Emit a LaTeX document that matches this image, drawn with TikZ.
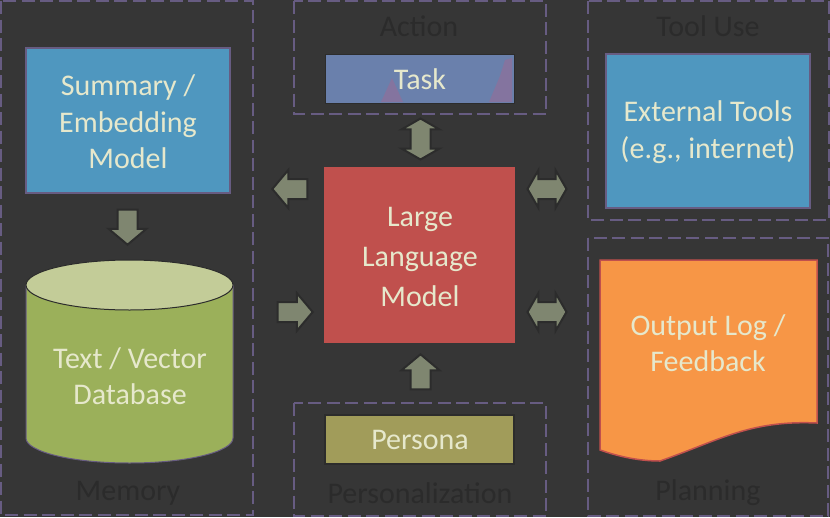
\documentclass[tikz,border=0pt]{standalone}
\usepackage{fontspec}
\setmainfont{Carlito}
\usetikzlibrary{shapes.arrows}
\definecolor{bgc}{HTML}{363636}
\definecolor{bluec}{HTML}{4F97BF}
\definecolor{redc}{HTML}{C0504D}
\definecolor{greenc}{HTML}{9BB05A}
\definecolor{orangec}{HTML}{F79646}
\definecolor{textc}{HTML}{E6E8CC}
\definecolor{dashc}{HTML}{675C82}
\definecolor{labelc}{HTML}{2B2B2B}
\definecolor{arrowc}{HTML}{7F8670}
\definecolor{edgec}{HTML}{2C2C2C}
\definecolor{taskc}{HTML}{6A80AC}
\definecolor{taskr}{HTML}{84749F}
\definecolor{personac}{HTML}{A19C5A}
\definecolor{lidc}{HTML}{C3CC98}
\tikzset{
  x=1pt,y=-1pt,
  txt/.style={text=textc,font=\fontsize{30}{36.5}\selectfont,align=center,inner sep=0pt},
  grouplabel/.style={text=labelc,font=\fontsize{30}{36}\selectfont,inner sep=0pt},
  groupbox/.style={draw=dashc,line width=1.2pt,dash pattern=on 13pt off 5.5pt},
  solidbox/.style={draw=dashc,line width=1.2pt,fill=#1},
  onearrow/.style={single arrow,draw=edgec,line width=2pt,fill=arrowc,inner xsep=0pt,inner ysep=9pt,
    minimum width=36pt,minimum height=35pt,single arrow head extend=9pt,single arrow tip angle=100},
  twoarrow/.style={double arrow,draw=edgec,line width=2pt,fill=arrowc,inner xsep=0pt,inner ysep=9pt,
    minimum width=36pt,minimum height=39pt,double arrow head extend=9pt,double arrow tip angle=120},
}
\begin{document}
\begin{tikzpicture}
\useasboundingbox (0,0) rectangle (830,517);
\fill[bgc] (0,0) rectangle (830,517);
% group frames
\draw[groupbox] (1,1) rectangle (253,515);
\draw[groupbox] (294,1) rectangle (546,114);
\draw[groupbox] (294,403) rectangle (546,516);
\draw[groupbox] (588,1) rectangle (829,220);
\draw[groupbox] (588,238) rectangle (828,516);
% blocks
\draw[solidbox=bluec] (26,48) rectangle (230,193);
\draw[solidbox=bluec] (606,54) rectangle (810,208);
\draw[solidbox=redc,draw=redc] (325,168) rectangle (514,342);
\draw[draw=edgec,line width=1pt,fill=taskc] (325,54) rectangle (514,103);
\fill[taskr] (381,102) -- (392,78) -- (403,102) -- cycle;
\fill[taskr] (489,102) -- (500,76) -- (505,60) -- (512,58) -- (512,102) -- cycle;
\draw[draw=edgec,line width=2pt,fill=personac] (325,415) rectangle (514,464);
% cylinder
\draw[draw=dashc,line width=1pt,fill=greenc] (26,285) -- (26,438) arc[start angle=180,end angle=0,x radius=103.5,y radius=25] -- (233,285) -- cycle;
\draw[draw=edgec,line width=1pt,fill=lidc] (129.5,285) ellipse[x radius=103.5,y radius=25];
% document
\draw[draw=redc,line width=1.5pt,fill=orangec] (600,260) -- (817,260) -- (817,423)
  .. controls (750,420) and (720,440) .. (660,461)
  .. controls (640,461) and (620,457) .. (600,450) -- cycle;
% texts
\node[txt] (summary) at (128,122) {Summary /\\Embedding\\Model};
\node[txt] (database) at (130,376) {Text / Vector\\Database};
\node[txt] (task) at (420,79) {Task};
\node[txt,font=\fontsize{30}{40}\selectfont] (llm) at (420,257) {Large\\Language\\Model};
\node[txt] (persona) at (420,440) {Persona};
\node[txt] (tools) at (708,132) {External Tools\\(e.g., internet)};
\node[txt] (log) at (708,343) {Output Log /\\Feedback};
\node[grouplabel] (memory) at (128,493) {Memory};
\node[grouplabel] (action) at (419,26) {Action};
\node[grouplabel] (personalization) at (420,493) {Personalization};
\node[grouplabel] (tooluse) at (708,26) {Tool Use};
\node[grouplabel] (planning) at (708,493) {Planning};
% block arrows
\node[onearrow,rotate=-90] (a1) at (127.5,223) {};
\node[onearrow,rotate=180] (a2) at (294,189) {};
\node[onearrow] (a3) at (291,312) {};
\node[onearrow,rotate=90] (a4) at (420.5,376) {};
\node[twoarrow,rotate=90,minimum height=41pt] (a5) at (420.5,139) {};
\node[twoarrow] (a6) at (547,189) {};
\node[twoarrow] (a7) at (547,312) {};
\end{tikzpicture}
\end{document}
